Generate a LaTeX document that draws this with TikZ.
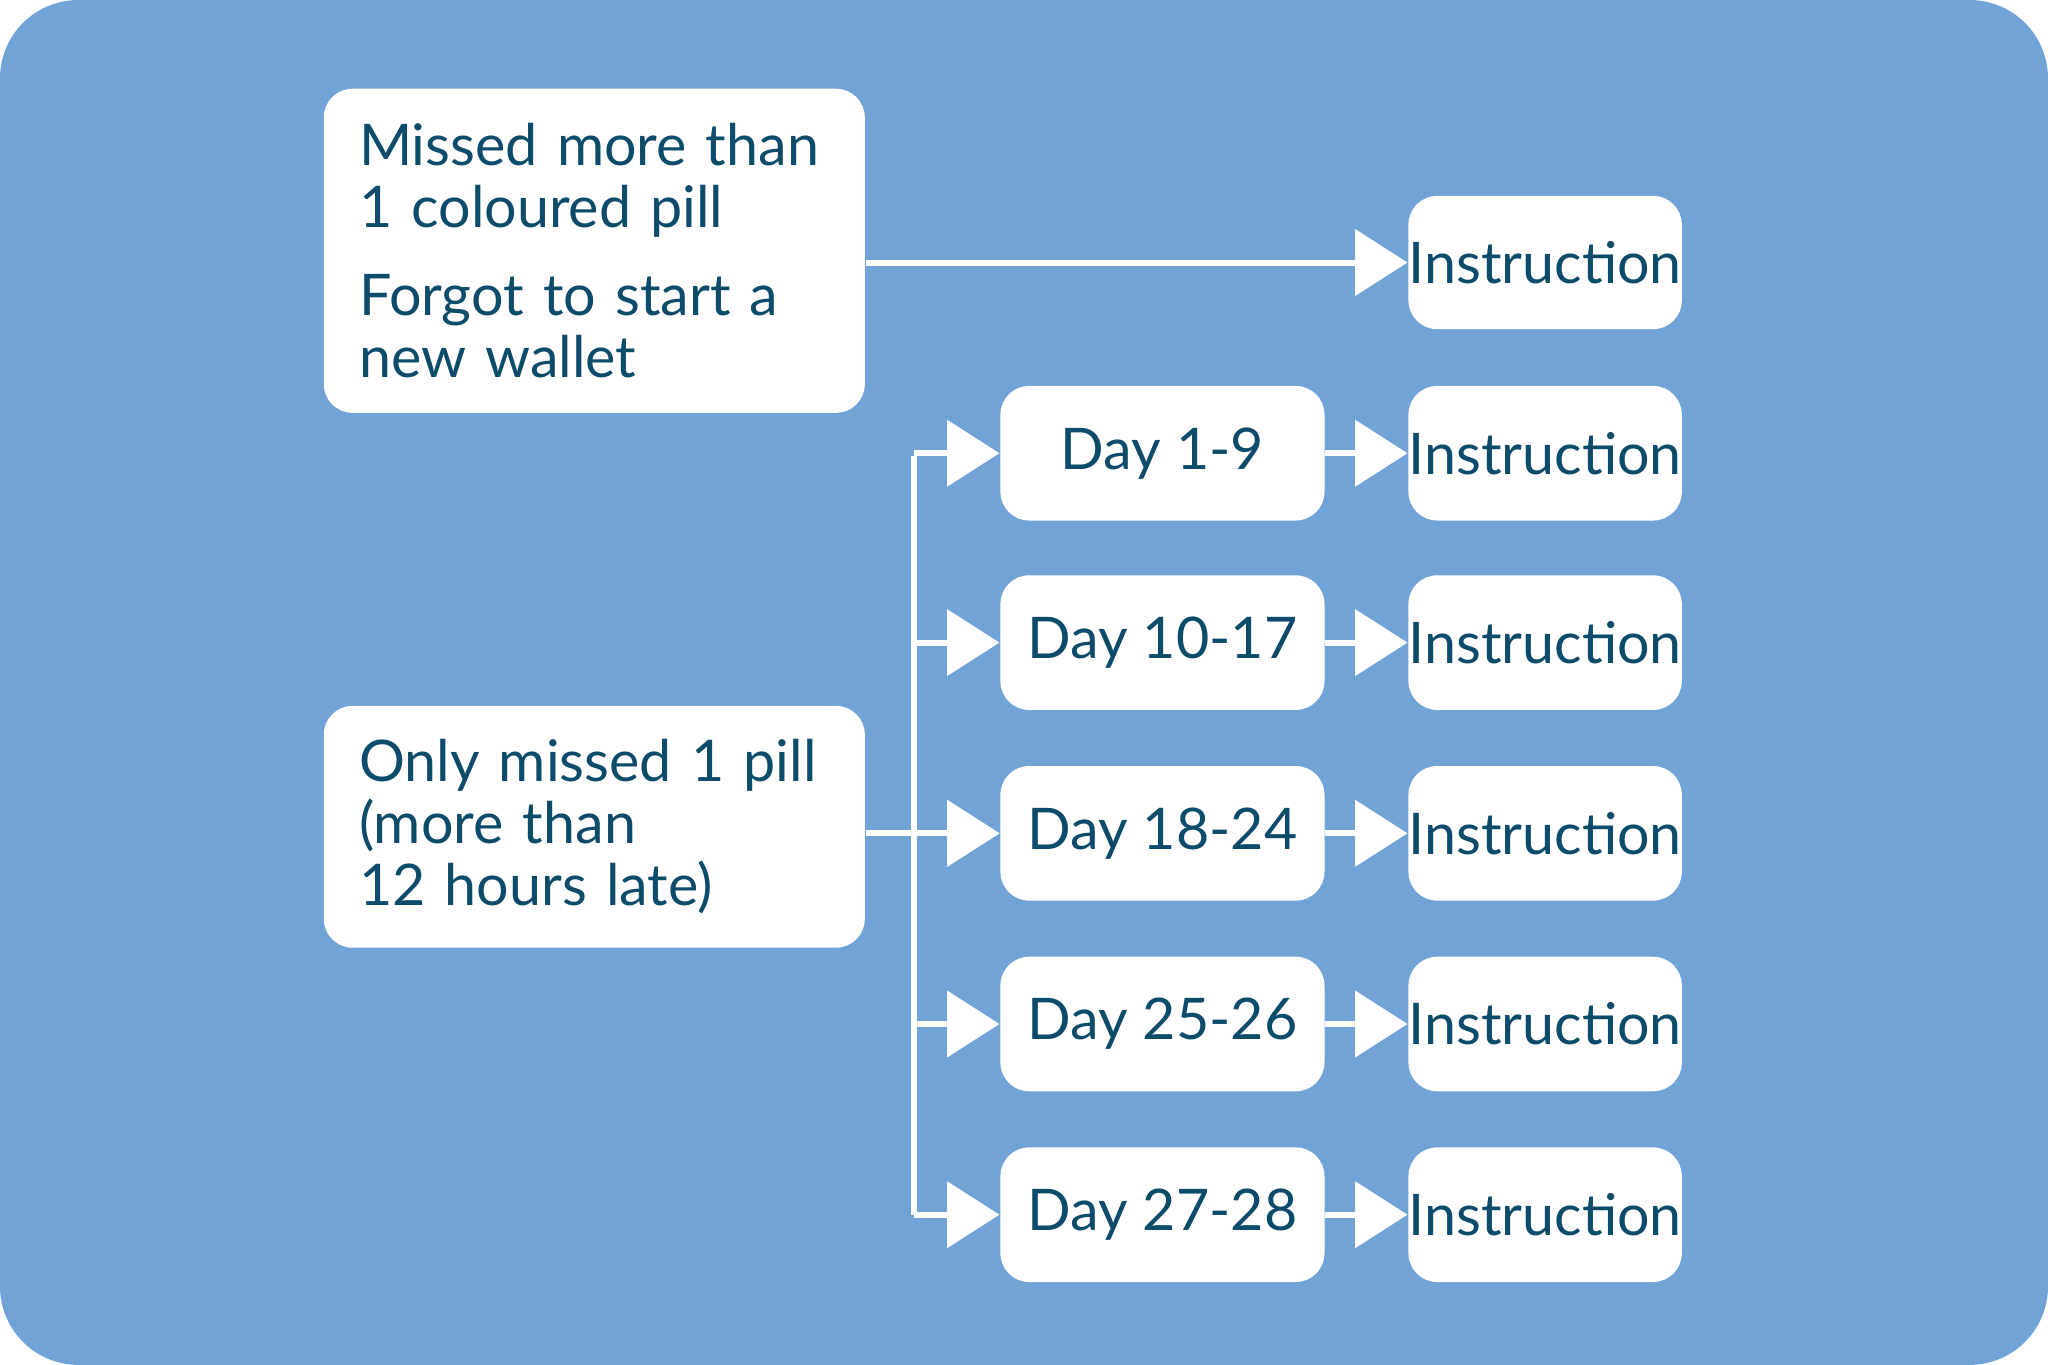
\documentclass[tikz,border=0pt]{standalone}
\usepackage{fontspec}
\setmainfont{Lato}
\usetikzlibrary{arrows.meta}
\definecolor{bgblue}{HTML}{72A3D7}
\definecolor{txtblue}{HTML}{0D4B6B}
\begin{document}
\begin{tikzpicture}[x=0.01cm,y=-0.01cm,
	box/.style={fill=white,rounded corners=0.22cm,text=txtblue,font=\fontsize{12.5}{13.5}\selectfont,inner sep=0pt},
	link/.style={draw=white,line width=1.3pt},
	>={Triangle[length=0.4cm,width=0.5cm,fill=white]}]
	\fill[white] (0,0) rectangle (1568,1045);
	\fill[bgblue,rounded corners=0.6cm] (0,0) rectangle (1568,1045);
	\begin{scope}[every node/.style={box}]
		\node[minimum width=4.14cm,minimum height=2.48cm,text width=3.6cm,align=left] (missed) at (455,192)
			{Missed more than\\1 coloured pill\\[0.2cm]Forgot to start a\\new wallet};
		\node[minimum width=4.14cm,minimum height=1.85cm,text width=3.6cm,align=left] (only) at (455,633)
			{Only missed 1 pill\\(more than\\12 hours late)};
		\node[minimum width=2.07cm,minimum height=1.02cm] (ins0) at (1183,201) {Instruction};
		\foreach \n/\y/\d in {1/347/1-9,2/492/10-17,3/638/18-24,4/784/25-26,5/930/27-28}{
			\node[minimum width=2.48cm,minimum height=1.03cm] (day\n) at (890,\y) {Day \d};
			\node[minimum width=2.07cm,minimum height=1.03cm] (ins\n) at (1183,\y) {Instruction};
		}
	\end{scope}
	\coordinate (top) at (700,349);
	\coordinate (bot) at (700,930);
	\draw[link,->] (missed.east |- ins0) -- (ins0);
	\draw[link] (top) -- (bot);
	\draw[link,->] (only.east |- day3) -- (day3);
	\foreach \n in {1,...,5}{
		\draw[link,->] (top |- day\n) -- (day\n);
		\draw[link,->] (day\n) -- (ins\n);
	}
\end{tikzpicture}
\end{document}
